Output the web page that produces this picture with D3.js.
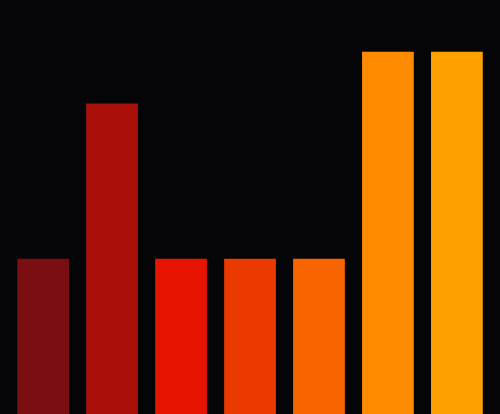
<!DOCTYPE html>
<html><head><meta charset="utf-8">
<script src="https://cdn.jsdelivr.net/npm/d3@7"></script>
<style>html,body{margin:0;padding:0;background:#050507;overflow:hidden}</style>
</head><body>
<svg id="chart" width="500" height="414"></svg>
<script>
const categories = ["A","B","C","D","E","F","G"];
const values = [3, 6, 3, 3, 3, 7, 7];
const colors = ["#7b0e10", "#ab0f09", "#e61400", "#ea3a00", "#f86400", "#ff8c00", "#ffa200"];

const W = 500, H = 414;
const svg = d3.select("#chart");
svg.append("rect").attr("width", W).attr("height", H).attr("fill", "#050507");

const x = d3.scaleBand().domain(categories).range([0, W]).padding(0.25);
const y = d3.scaleLinear().domain([0, 8]).range([H, 0]);

svg.selectAll("rect.bar").data(values).join("rect")
  .attr("class", "bar")
  .attr("x", (d, i) => x(categories[i]))
  .attr("y", d => y(d))
  .attr("width", x.bandwidth())
  .attr("height", d => H - y(d))
  .attr("fill", (d, i) => colors[i]);
</script>
</body></html>
